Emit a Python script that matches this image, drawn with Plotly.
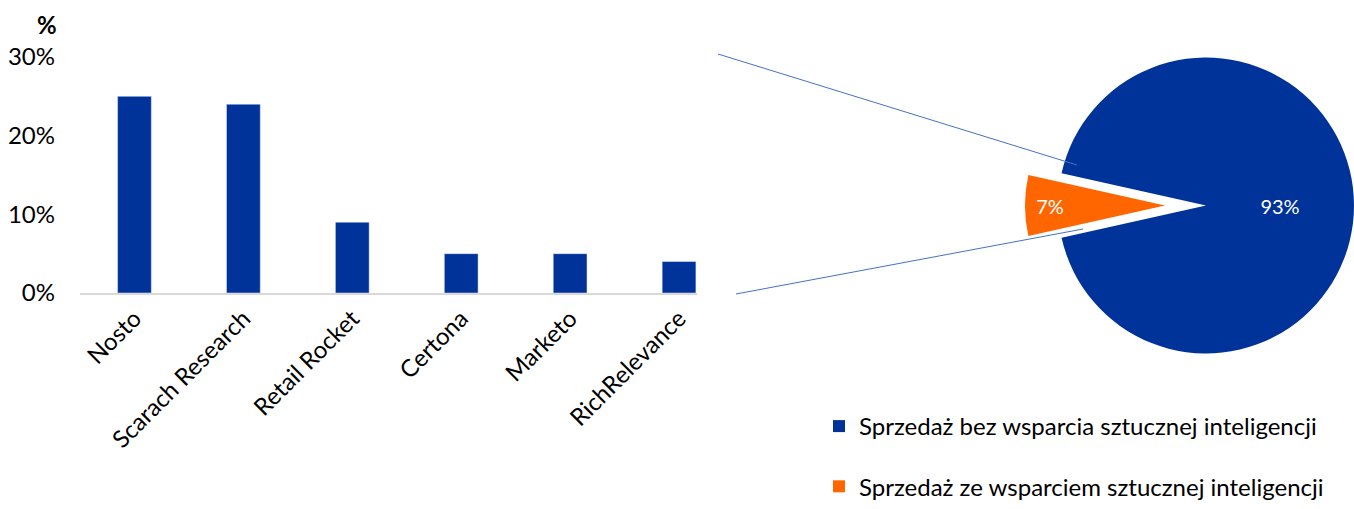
import plotly.graph_objects as go

# ---- data ----
companies = ["Nosto", "Scarach Research", "Retail Rocket", "Certona", "Marketo", "RichRelevance"]
share_pct = [25, 24, 9, 5, 5, 4]
y_ticks = [0, 10, 20, 30]
y_tick_labels = ["0%", "10%", "20%", "30%"]

pie_labels = ["Sprzedaż bez wsparcia sztucznej inteligencji",
              "Sprzedaż ze wsparciem sztucznej inteligencji"]
pie_values = [93, 7]

BLUE = "#003399"
ORANGE = "#FF6600"
CLEAR = "rgba(0,0,0,0)"
FONT = "Lato"

W, H = 1354, 509

def px_x(x):
    return x / W

def px_y(y):
    return (H - y) / H

fig = go.Figure()

# bar chart
fig.add_trace(go.Bar(
    x=companies, y=share_pct, marker_color=BLUE, width=0.31,
    showlegend=False, hoverinfo="x+y",
))

# rotation so that the small slice points to the left (9 o'clock)
total = sum(pie_values)
rot = 270 - (pie_values[0] / total * 360 + pie_values[1] / total * 180)

# blue pie (with the 7% slice left empty)
cxA, rA, cy = 1206, 148, 205.5
fig.add_trace(go.Pie(
    labels=pie_labels, values=pie_values, sort=False, direction="clockwise",
    rotation=rot, marker=dict(colors=[BLUE, CLEAR]),
    texttemplate=["%{percent:.0%}", ""], textposition="inside",
    insidetextorientation="horizontal",
    textfont=dict(color="white", size=20, family=FONT),
    domain=dict(x=[px_x(cxA - rA), min(1.0, px_x(cxA + rA))],
                y=[px_y(cy + rA), px_y(cy - rA)]),
    showlegend=False, automargin=False,
))

# exploded orange slice
cxB, rB = 1165, 140
fig.add_trace(go.Pie(
    labels=pie_labels, values=pie_values, sort=False, direction="clockwise",
    rotation=rot, marker=dict(colors=[CLEAR, ORANGE]),
    texttemplate=["", "%{percent:.0%}"], textposition="inside",
    insidetextorientation="horizontal",
    textfont=dict(color="white", size=20, family=FONT),
    domain=dict(x=[px_x(cxB - rB), px_x(cxB + rB)],
                y=[px_y(cy + rB), px_y(cy - rB)]),
    showlegend=False, automargin=False,
))

# legend entries
for i, (lab, col) in enumerate(zip(pie_labels, [BLUE, ORANGE])):
    fig.add_trace(go.Scatter(
        x=[None], y=[None], mode="markers", name=lab, legendgroup=f"g{i}",
        marker=dict(symbol="square", size=9, color=col),
    ))

# connector lines
line_style = dict(color="#4472C4", width=1)
fig.add_shape(type="line", xref="paper", yref="paper",
              x0=px_x(718), y0=px_y(54), x1=px_x(1077), y1=px_y(165), line=line_style)
fig.add_shape(type="line", xref="paper", yref="paper",
              x0=px_x(736), y0=px_y(294), x1=px_x(1083), y1=px_y(229), line=line_style)

fig.add_annotation(text="<b>%</b>", xref="paper", yref="paper",
                   x=px_x(47), y=px_y(25), xanchor="center", yanchor="middle",
                   showarrow=False,
                   font=dict(size=24, family=FONT, color="black"))

fig.update_layout(
    width=W, height=H,
    margin=dict(l=0, r=0, t=0, b=0),
    paper_bgcolor="white", plot_bgcolor="white",
    font=dict(family=FONT, size=23, color="black"),
    xaxis=dict(
        domain=[px_x(80), px_x(697)], range=[-0.5, 5.165],
        showline=True, linecolor="#D9D9D9", linewidth=2,
        showgrid=False, zeroline=False, tickangle=-45, ticks="",
        tickfont=dict(size=24, family=FONT), automargin=False,
    ),
    yaxis=dict(
        domain=[px_y(293), px_y(57)], range=[0, 30],
        tickvals=y_ticks, ticktext=y_tick_labels,
        showgrid=False, zeroline=False, showline=False, ticks="",
        ticklabelstandoff=24,
        tickfont=dict(size=24, family=FONT), automargin=False,
    ),
    legend=dict(x=px_x(819), y=0, xanchor="left", yanchor="bottom",
                tracegroupgap=26, font=dict(size=24, family=FONT),
                itemsizing="constant", bgcolor="rgba(0,0,0,0)"),
)

fig.write_html("out.html")
